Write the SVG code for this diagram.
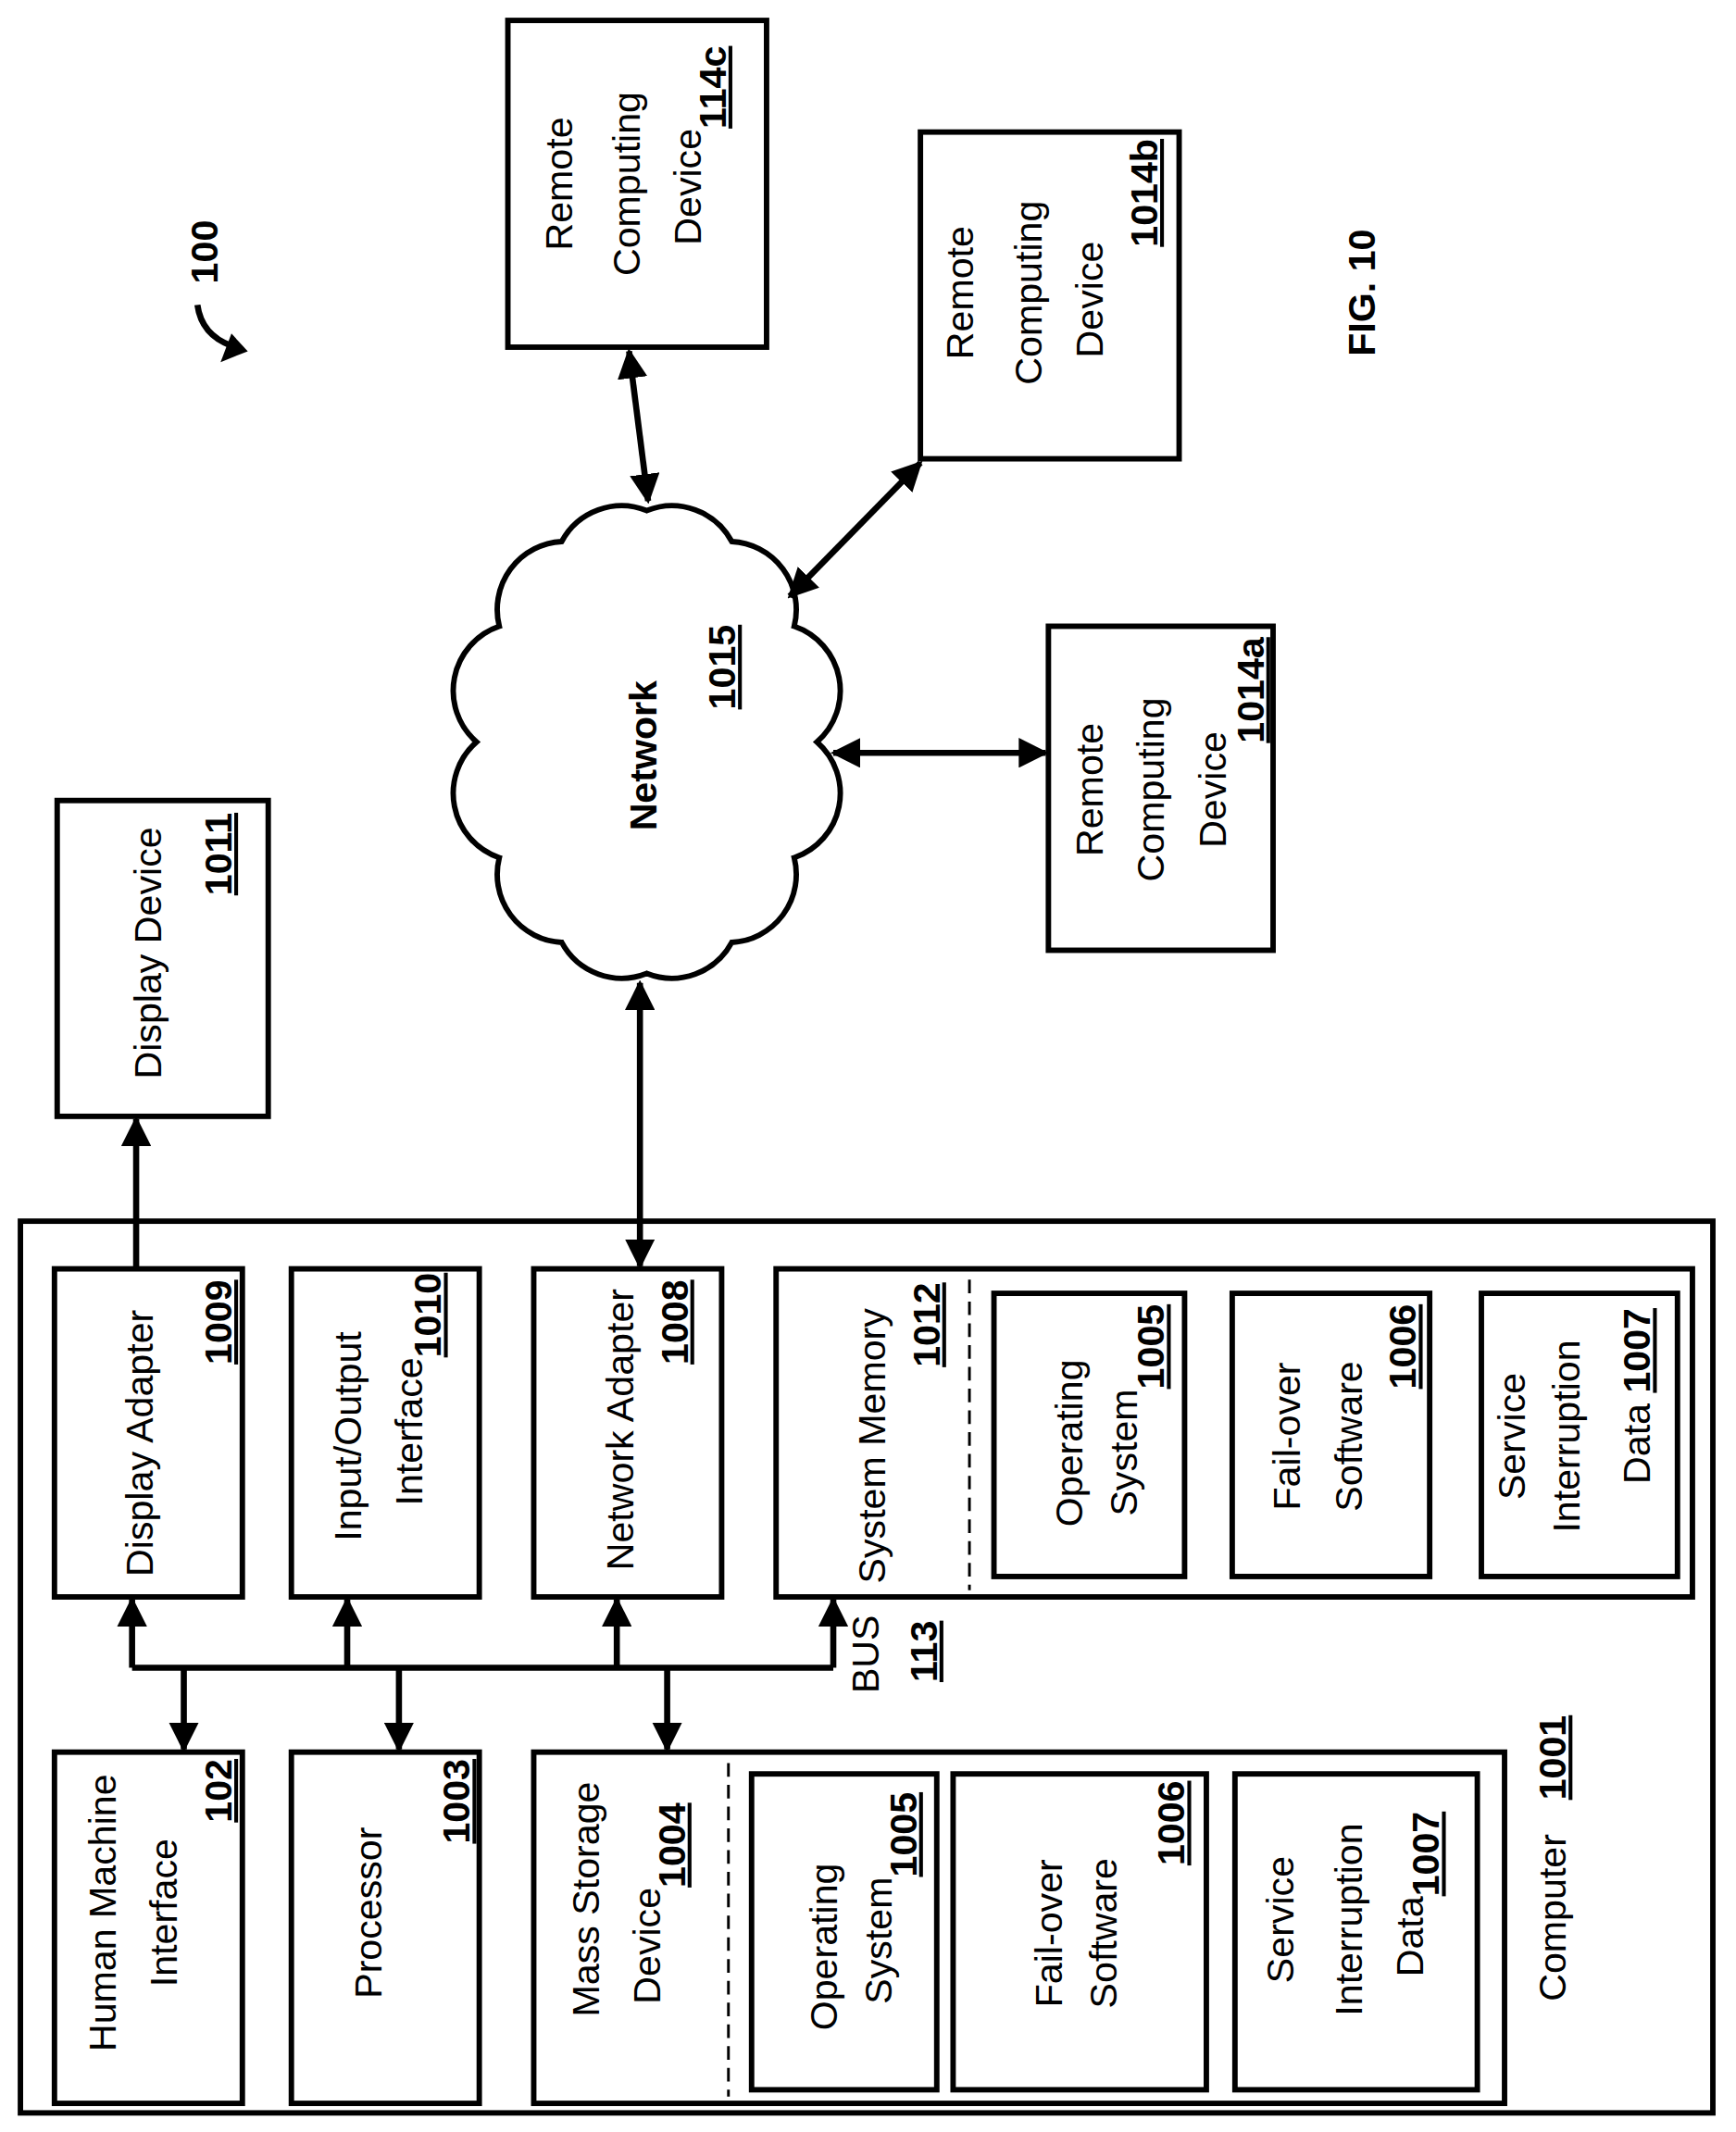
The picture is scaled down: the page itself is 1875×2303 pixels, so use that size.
<svg xmlns="http://www.w3.org/2000/svg" width="1875" height="2303" viewBox="0 0 1875 2303">
<defs>
<style>
.b{fill:#fff;stroke:#000;stroke-width:4}
.t{font-family:"Liberation Sans",Arial,sans-serif;font-size:28px;fill:#000}
.n{font-weight:bold;text-decoration:underline}
.c{stroke:#000;stroke-width:4.5;fill:none}
.d{stroke:#000;stroke-width:2;stroke-dasharray:10,6;fill:none}
</style>
<marker id="a" viewBox="0 0 10 10" refX="9" refY="5" markerWidth="22" markerHeight="22" markerUnits="userSpaceOnUse" orient="auto-start-reverse"><path d="M0,0L10,5L0,10z"/></marker>
</defs>
<rect width="1875" height="2303" fill="#fff"/>
<g transform="scale(1.4706)">
<g id="computer"><rect class="b" x="15" y="897" width="1243" height="655"/>
<text class="t" transform="translate(1150,1470) rotate(-90)">Computer<tspan class="n" dx="25">1001</tspan></text></g>
<g id="display-device"><rect class="b" x="42" y="588" width="155" height="232"/>
<text class="t" text-anchor="middle" transform="translate(118,700) rotate(-90)">Display Device</text>
<text class="t n" text-anchor="end" transform="translate(170,597) rotate(-90)">1011</text></g>
<g id="display-adapter"><rect class="b" x="40" y="932" width="138" height="241"/>
<text class="t" text-anchor="middle" transform="translate(112,1060) rotate(-90)">Display Adapter</text>
<text class="t n" text-anchor="end" transform="translate(170,940) rotate(-90)">1009</text></g>
<g id="io"><rect class="b" x="214" y="932" width="138" height="241"/>
<text class="t" text-anchor="middle" transform="translate(265,1055) rotate(-90)">Input/Output</text>
<text class="t" transform="translate(310,1106) rotate(-90)">Interface<tspan class="n" dy="14">1010</tspan></text></g>
<g id="network-adapter"><rect class="b" x="392" y="932" width="138" height="241"/>
<text class="t" text-anchor="middle" transform="translate(465,1050) rotate(-90)">Network Adapter</text>
<text class="t n" text-anchor="end" transform="translate(505,940) rotate(-90)">1008</text></g>
<g id="system-memory"><rect class="b" x="570" y="932" width="673" height="241"/>
<line class="d" x1="712" y1="940" x2="712" y2="1168"/>
<text class="t" text-anchor="middle" transform="translate(650,1062) rotate(-90)">System Memory</text>
<text class="t n" text-anchor="end" transform="translate(690,942) rotate(-90)">1012</text></g>
<g id="sm-os"><rect class="b" x="730" y="950" width="140" height="208"/>
<text class="t" text-anchor="middle" transform="translate(795,1060) rotate(-90)">Operating</text>
<text class="t" text-anchor="end" transform="translate(835,958) rotate(-90)">System<tspan class="n" dy="20">1005</tspan></text></g>
<g id="sm-fo"><rect class="b" x="905" y="950" width="145" height="208"/>
<text class="t" text-anchor="middle" transform="translate(955,1055) rotate(-90)">Fail-over</text>
<text class="t" text-anchor="middle" transform="translate(1000,1055) rotate(-90)">Software</text>
<text class="t n" text-anchor="end" transform="translate(1040,958) rotate(-90)">1006</text></g>
<g id="sm-sid"><rect class="b" x="1088" y="950" width="144" height="208"/>
<text class="t" text-anchor="middle" transform="translate(1120,1055) rotate(-90)">Service</text>
<text class="t" text-anchor="middle" transform="translate(1160,1055) rotate(-90)">Interruption</text>
<text class="t" transform="translate(1212,1090) rotate(-90)">Data <tspan class="n">1007</tspan></text></g>
<g id="hmi"><rect class="b" x="40" y="1287" width="138" height="258"/>
<text class="t" text-anchor="middle" transform="translate(85,1405) rotate(-90)">Human Machine</text>
<text class="t" text-anchor="middle" transform="translate(130,1405) rotate(-90)">Interface</text>
<text class="t n" text-anchor="end" transform="translate(170,1292) rotate(-90)">102</text></g>
<g id="processor"><rect class="b" x="214" y="1287" width="138" height="258"/>
<text class="t" text-anchor="middle" transform="translate(280,1405) rotate(-90)">Processor</text>
<text class="t n" text-anchor="end" transform="translate(345,1292) rotate(-90)">1003</text></g>
<g id="mass-storage"><rect class="b" x="392" y="1287" width="713" height="258"/>
<line class="d" x1="535" y1="1295" x2="535" y2="1540"/>
<text class="t" text-anchor="middle" transform="translate(440,1395) rotate(-90)">Mass Storage</text>
<text class="t" transform="translate(485,1472) rotate(-90)">Device<tspan class="n" dy="18">1004</tspan></text></g>
<g id="ms-os"><rect class="b" x="552" y="1303" width="136" height="232"/>
<text class="t" text-anchor="middle" transform="translate(615,1430) rotate(-90)">Operating</text>
<text class="t" transform="translate(655,1472) rotate(-90)">System<tspan class="n" dy="18">1005</tspan></text></g>
<g id="ms-fo"><rect class="b" x="700" y="1303" width="186" height="232"/>
<text class="t" text-anchor="middle" transform="translate(780,1420) rotate(-90)">Fail-over</text>
<text class="t" text-anchor="middle" transform="translate(820,1420) rotate(-90)">Software</text>
<text class="t n" text-anchor="end" transform="translate(870,1308) rotate(-90)">1006</text></g>
<g id="ms-sid"><rect class="b" x="907" y="1303" width="178" height="232"/>
<text class="t" text-anchor="middle" transform="translate(950,1410) rotate(-90)">Service</text>
<text class="t" text-anchor="middle" transform="translate(1000,1410) rotate(-90)">Interruption</text>
<text class="t" transform="translate(1045,1452) rotate(-90)">Data<tspan class="n" dy="12">1007</tspan></text></g>
<g id="network"><path class="b" d="M475,375 A50,50 0 0 1 537.5,397.8 A50,50 0 0 1 583.3,460 A50,50 0 0 1 600,545 A50,50 0 0 1 583.3,630 A50,50 0 0 1 537.5,692.2 A50,50 0 0 1 475,715 A50,50 0 0 1 412.5,692.2 A50,50 0 0 1 366.7,630 A50,50 0 0 1 350,545 A50,50 0 0 1 366.7,460 A50,50 0 0 1 412.5,397.8 A50,50 0 0 1 475,375 Z"/>
<text class="t" font-weight="bold" text-anchor="middle" transform="translate(482,555) rotate(-90)">Network</text>
<text class="t n" text-anchor="middle" transform="translate(540,490) rotate(-90)">1015</text></g>
<g id="r1014a"><rect class="b" x="770" y="460" width="165" height="238"/>
<text class="t" text-anchor="middle" transform="translate(810,580) rotate(-90)">Remote</text>
<text class="t" text-anchor="middle" transform="translate(855,580) rotate(-90)">Computing</text>
<text class="t" text-anchor="middle" transform="translate(900,580) rotate(-90)">Device</text>
<text class="t n" text-anchor="end" transform="translate(928,468) rotate(-90)">1014a</text></g>
<g id="r1014b"><rect class="b" x="676" y="97" width="190" height="240"/>
<text class="t" text-anchor="middle" transform="translate(715,215) rotate(-90)">Remote</text>
<text class="t" text-anchor="middle" transform="translate(765,215) rotate(-90)">Computing</text>
<text class="t" text-anchor="middle" transform="translate(810,220) rotate(-90)">Device</text>
<text class="t n" text-anchor="end" transform="translate(850,102) rotate(-90)">1014b</text></g>
<g id="r114c"><rect class="b" x="373" y="15" width="190" height="240"/>
<text class="t" text-anchor="middle" transform="translate(420,135) rotate(-90)">Remote</text>
<text class="t" text-anchor="middle" transform="translate(470,135) rotate(-90)">Computing</text>
<text class="t" transform="translate(515,180) rotate(-90)">Device<tspan class="n" dy="18">114c</tspan></text></g>
<g id="bus-label"><text class="t" text-anchor="middle" transform="translate(645,1215) rotate(-90)">BUS</text>
<text class="t n" text-anchor="middle" transform="translate(688,1213) rotate(-90)">113</text></g>
<g id="labels"><text class="t" font-weight="bold" text-anchor="middle" transform="translate(160,185) rotate(-90)">100</text>
<text class="t" font-weight="bold" text-anchor="middle" transform="translate(1010,215) rotate(-90)">FIG. 10</text></g>
<g id="connectors">
<path class="c" d="M97,1225H612"/>
<path class="c" marker-end="url(#a)" d="M97,1225V1175"/>
<path class="c" marker-end="url(#a)" d="M255,1225V1175"/>
<path class="c" marker-end="url(#a)" d="M453,1225V1175"/>
<path class="c" marker-end="url(#a)" d="M612,1225V1175"/>
<path class="c" marker-end="url(#a)" d="M135,1225V1285"/>
<path class="c" marker-end="url(#a)" d="M293,1225V1285"/>
<path class="c" marker-end="url(#a)" d="M490,1225V1285"/>
<path class="c" marker-end="url(#a)" d="M100,932V822"/>
<path class="c" marker-start="url(#a)" marker-end="url(#a)" d="M470,722V930"/>
<path class="c" marker-start="url(#a)" marker-end="url(#a)" d="M612,553H768"/>
<path class="c" marker-start="url(#a)" marker-end="url(#a)" d="M580,438L676,340"/>
<path class="c" marker-start="url(#a)" marker-end="url(#a)" d="M462,258L476,368"/>
<path class="c" d="M145,224Q148,246 170,254"/>
<path d="M182,258L162,266L170,245Z"/>
</g>
</g>
</svg>
